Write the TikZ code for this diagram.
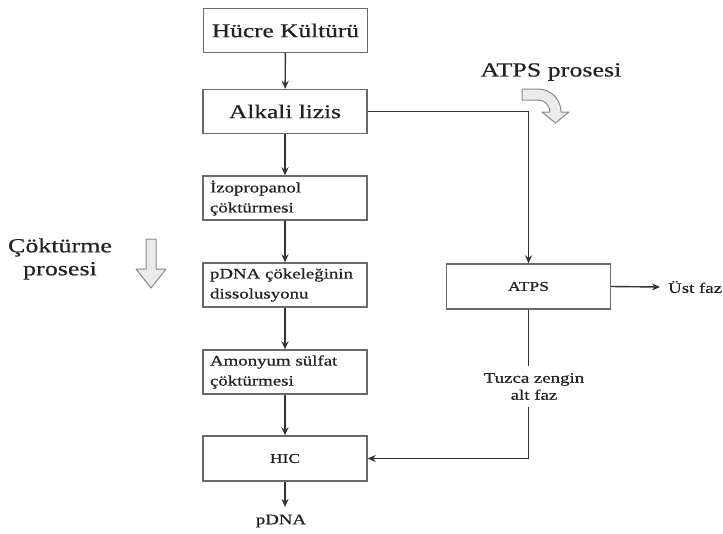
\documentclass[tikz,border=0pt]{standalone}
\usepackage{fontspec}
\setmainfont[FakeStretch=1.3,UprightFeatures={FakeBold=0.6}]{Liberation Serif}
\usetikzlibrary{arrows.meta,calc}
\definecolor{boxline}{HTML}{6A6A6A}
\definecolor{conn}{HTML}{333333}
\definecolor{txt}{HTML}{222222}
\definecolor{blockfill}{HTML}{EBEBEB}
\definecolor{blockline}{HTML}{8A8A8A}
\tikzset{
  bigbox/.style={draw=boxline, line width=1.4pt, minimum width=164pt, minimum height=44pt, inner sep=0pt, text=txt, font=\fontsize{19.5}{22}\selectfont},
  smallbox/.style={draw=boxline, line width=1.4pt, text width=150pt, inner xsep=7pt, inner ysep=0pt, minimum height=44pt, align=left, text=txt, font=\fontsize{14.5}{20}\selectfont},
  midbox/.style={draw=boxline, line width=1.4pt, minimum width=164pt, minimum height=45pt, inner sep=0pt, text=txt, font=\fontsize{13.5}{16}\selectfont},
  conline/.style={draw=conn, line width=1.4pt},
  conarrow/.style={conline, -{Stealth[length=8pt,width=7pt]}},
  plain/.style={text=txt, inner sep=0pt, font=\fontsize{14.5}{17}\selectfont},
  biglabel/.style={text=txt, inner sep=0pt, font=\fontsize{20}{23}\selectfont},
  blockarrow/.style={fill=blockfill, draw=blockline, line width=1pt, line join=round}
}
\begin{document}
\begin{tikzpicture}[x=1pt,y=-1pt]
\useasboundingbox (0,0) rectangle (723,533);
% left column
\node[bigbox] (hucre) at (285.5,30.5) {Hücre Kültürü};
\node[bigbox] (alkali) at (285,111.5) {Alkali lizis};
\node[smallbox] (izo) at (285,198) {İzopropanol\\çöktürmesi};
\node[smallbox] (pdna) at (285,285) {pDNA çökeleğinin\\dissolusyonu};
\node[smallbox] (amon) at (285,372) {Amonyum sülfat\\çöktürmesi};
\node[midbox] (hic) at (285,458.5) {HIC};
\coordinate (pend) at (285,507);
\node[plain] (pdnalab) at (281,521) {pDNA};
% right column
\node[midbox] (atps) at (528.5,286.5) {ATPS};
\coordinate (ustend) at (660,287);
\node[plain, anchor=west] (ust) at (668,287) {Üst faz};
\node[plain, align=center, inner ysep=7pt] (tuz) at (534,386.5) {Tuzca zengin\\alt faz};
% labels
\node[biglabel] (atpslab) at (551,72) {ATPS prosesi};
\node[biglabel, align=center] (coklab) at (60,259) {Çöktürme\\prosesi};
% connectors
\draw[conarrow] (hucre) -- (alkali);
\draw[conarrow] (alkali) -- (izo);
\draw[conarrow] (izo) -- (pdna);
\draw[conarrow] (pdna) -- (amon);
\draw[conarrow] (amon) -- (hic);
\draw[conarrow] (hic) -- (pend);
\draw[conarrow] (alkali.east) -| (atps.north);
\draw[conarrow] (atps.east) -- (ustend);
\draw[conline] (atps.south) -- (atps.south |- tuz.north);
\draw[conarrow] (atps.south |- tuz.south) |- (hic.east);
% block arrows
\draw[blockarrow] (146,239) -- (156,239) -- (156,269) -- (166,269) -- (151,288) -- (136,269) -- (146,269) -- cycle;
\draw[blockarrow] (522,89) -- (538,89) .. controls (550.7,89) and (561,99.3) .. (561,112) -- (569,112) -- (555.5,123) -- (542,112) -- (550,112) .. controls (550,105.4) and (544.6,100) .. (538,100) -- (522,100) -- cycle;
\end{tikzpicture}
\end{document}
